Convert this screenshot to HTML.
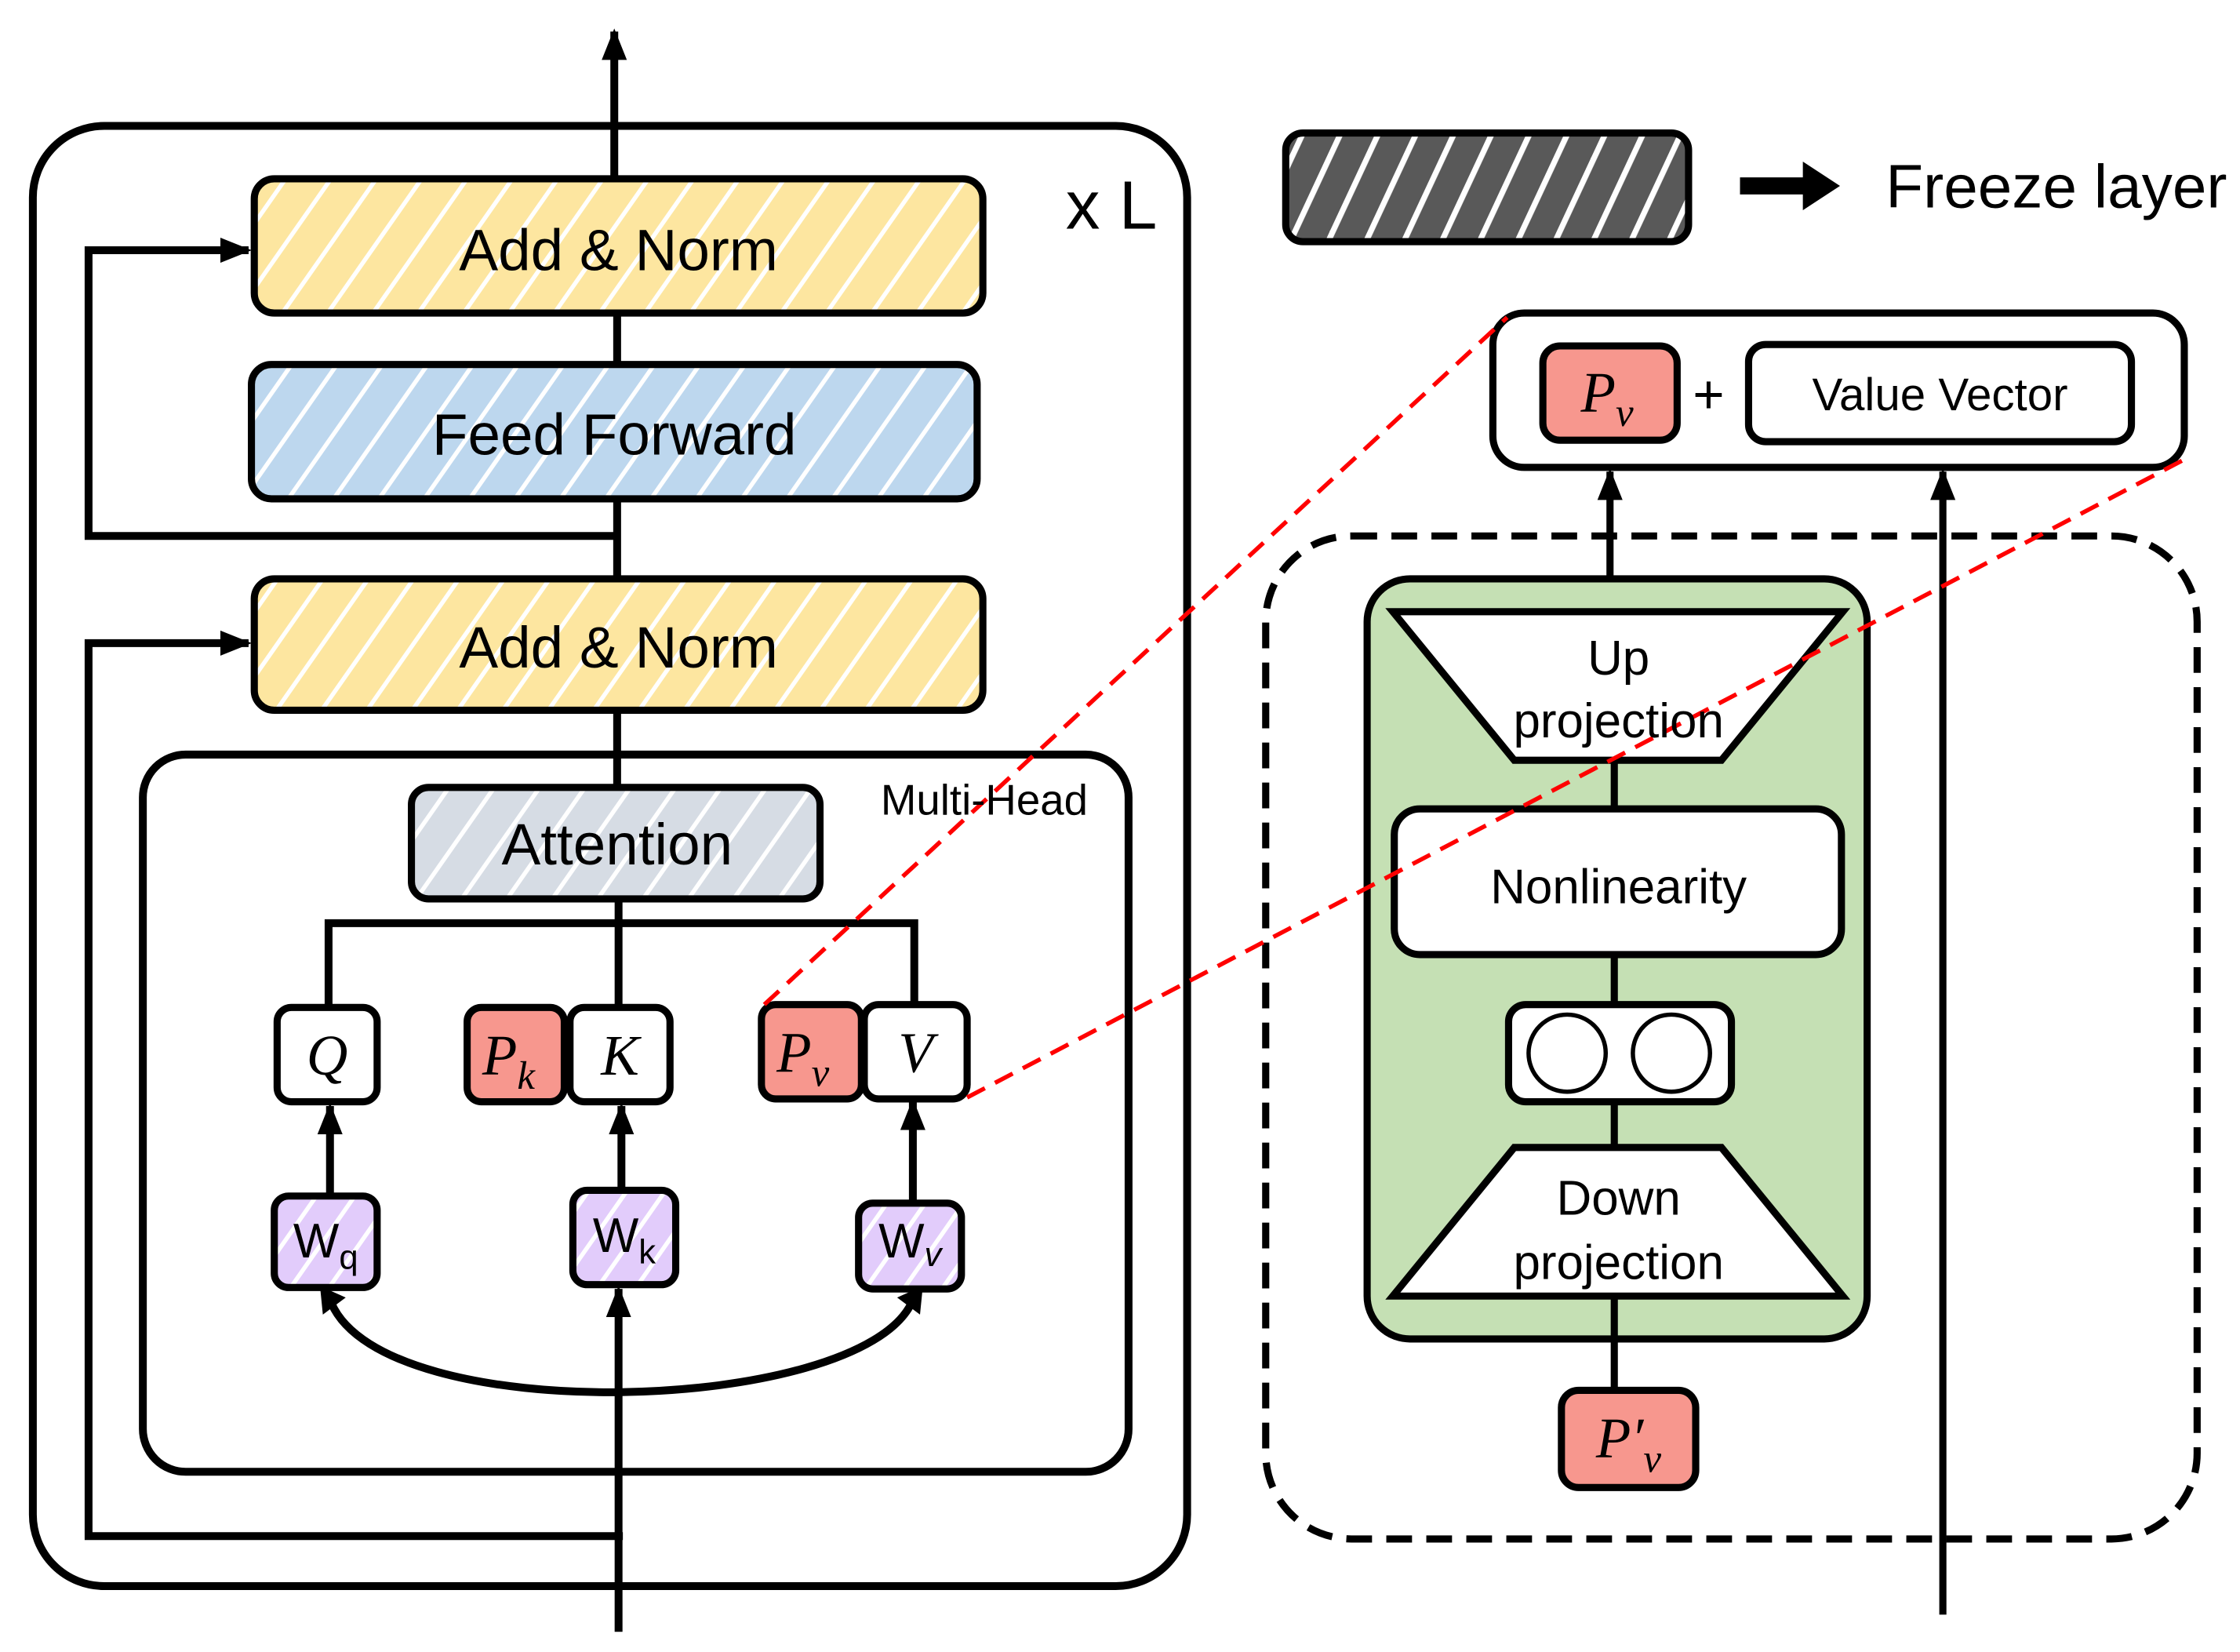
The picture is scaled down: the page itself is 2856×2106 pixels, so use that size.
<!DOCTYPE html>
<html><head><meta charset="utf-8"><style>
html,body{margin:0;padding:0;background:#fff;}
svg{display:block;}
text{font-family:"Liberation Sans",sans-serif;fill:#000;}
.m{font-family:"Liberation Serif",serif;font-style:italic;}
</style></head><body>
<svg width="2856" height="2106" viewBox="0 0 1568 1156" xmlns="http://www.w3.org/2000/svg">
<defs>
<pattern id="hy" width="26" height="26" patternUnits="userSpaceOnUse" patternTransform="rotate(35)"><rect width="26" height="26" fill="#fde6a0"/><rect x="0" width="3" height="26" fill="#fff"/></pattern>
<pattern id="hb" width="26" height="26" patternUnits="userSpaceOnUse" patternTransform="rotate(35)"><rect width="26" height="26" fill="#bdd7ee"/><rect x="0" width="3" height="26" fill="#fff"/></pattern>
<pattern id="hg" width="26" height="26" patternUnits="userSpaceOnUse" patternTransform="rotate(35)"><rect width="26" height="26" fill="#d6dce4"/><rect x="0" width="3" height="26" fill="#fff"/></pattern>
<pattern id="hp" width="22" height="22" patternUnits="userSpaceOnUse" patternTransform="rotate(35)"><rect width="22" height="22" fill="#e2ccfb"/><rect x="0" width="3" height="22" fill="#fff"/></pattern>
<pattern id="hd" width="24" height="24" patternUnits="userSpaceOnUse" patternTransform="rotate(25)"><rect width="24" height="24" fill="#595959"/><rect x="0" width="4" height="24" fill="#fff"/></pattern>
<marker id="ar" viewBox="0 0 10 10" refX="9" refY="5" markerWidth="22" markerHeight="22" orient="auto" markerUnits="userSpaceOnUse"><path d="M0,1 L10,5 L0,9 z" fill="#000"/></marker>
</defs>
<g fill="none" stroke="#000" stroke-width="5.5">
<rect x="23" y="88" width="808" height="1022" rx="50"/>
<line x1="430" y1="125" x2="430" y2="22" marker-end="url(#ar)"/>
<line x1="432" y1="219" x2="432" y2="255"/>
<line x1="432" y1="349" x2="432" y2="405"/>
<line x1="432" y1="497" x2="432" y2="551"/>
<polyline points="432,375 62,375 62,175 174,175" marker-end="url(#ar)"/>
<polyline points="436,1075 62,1075 62,450 174,450" marker-end="url(#ar)"/>
<rect x="100" y="528" width="690" height="502" rx="30"/>
<line x1="433" y1="629" x2="433" y2="705"/>
<polyline points="230,705 230,646 640,646 640,703"/>
<line x1="231" y1="835" x2="231" y2="774" marker-end="url(#ar)"/>
<line x1="435" y1="831" x2="435" y2="774" marker-end="url(#ar)"/>
<line x1="639" y1="840" x2="639" y2="771" marker-end="url(#ar)"/>
<line x1="433" y1="1142" x2="433" y2="902" marker-end="url(#ar)"/>
<path d="M638,912 C600,990 270,1000 232,912" />
</g>
<path d="M628,908 L646,900 L644,920 z" fill="#000"/>
<path d="M242,908 L224,900 L226,920 z" fill="#000"/>
<g stroke="#000" stroke-width="5">
<rect x="178" y="125" width="510" height="94" rx="14" fill="url(#hy)"/>
<rect x="176" y="255" width="508" height="94" rx="14" fill="url(#hb)"/>
<rect x="178" y="405" width="510" height="92" rx="14" fill="url(#hy)"/>
<rect x="288" y="551" width="286" height="78" rx="12" fill="url(#hg)"/>
<rect x="194" y="705" width="70" height="66" rx="10" fill="#fff"/>
<rect x="327" y="705" width="68" height="66" rx="10" fill="#f7978e"/>
<rect x="399" y="705" width="70" height="66" rx="10" fill="#fff"/>
<rect x="533" y="703" width="70" height="66" rx="10" fill="#f7978e"/>
<rect x="605" y="703" width="72" height="66" rx="10" fill="#fff"/>
<rect x="192" y="837" width="72" height="64" rx="10" fill="url(#hp)"/>
<rect x="401" y="833" width="72" height="66" rx="10" fill="url(#hp)"/>
<rect x="601" y="842" width="72" height="60" rx="10" fill="url(#hp)"/>
<rect x="900" y="93" width="282" height="76" rx="12" fill="url(#hd)"/>
<rect x="1045" y="219" width="484" height="108" rx="22" fill="#fff"/>
<rect x="1080" y="242" width="94" height="66" rx="12" fill="#f7978e"/>
<rect x="1224" y="241" width="268" height="68" rx="12" fill="#fff"/>
<rect x="886" y="375" width="652" height="702" rx="60" fill="none" stroke-dasharray="18,10"/>
<rect x="957" y="405" width="350" height="532" rx="30" fill="#c5e0b4"/>
<line x1="1130" y1="532" x2="1130" y2="566"/>
<line x1="1130" y1="668" x2="1130" y2="703"/>
<line x1="1130" y1="771" x2="1130" y2="803"/>
<line x1="1130" y1="907" x2="1130" y2="973"/>
<polygon points="975,428 1290,428 1205,532 1060,532" fill="#fff"/>
<rect x="976" y="566" width="313" height="102" rx="18" fill="#fff"/>
<rect x="1056" y="703" width="156" height="68" rx="12" fill="#fff"/>
<circle cx="1097" cy="737" r="27" fill="#fff" stroke-width="3"/>
<circle cx="1170" cy="737" r="27" fill="#fff" stroke-width="3"/>
<polygon points="1060,803 1205,803 1290,907 975,907" fill="#fff"/>
<rect x="1093" y="973" width="94" height="68" rx="12" fill="#f7978e"/>
<line x1="1127" y1="405" x2="1127" y2="330" marker-end="url(#ar)"/>
<line x1="1360" y1="1130" x2="1360" y2="330" marker-end="url(#ar)"/>
</g>
<path d="M1218,124 L1262,124 L1262,113 L1288,130 L1262,147 L1262,136 L1218,136 z" fill="#000"/>
<g stroke="#f00" stroke-width="3" stroke-dasharray="14,8" fill="none">
<line x1="535" y1="703" x2="1055" y2="222"/>
<line x1="677" y1="768" x2="1528" y2="322"/>
</g>
<g text-anchor="middle">
<text x="433" y="189" font-size="41">Add &amp; Norm</text>
<text x="430" y="318" font-size="41">Feed Forward</text>
<text x="433" y="467" font-size="41">Add &amp; Norm</text>
<text x="432" y="605" font-size="41">Attention</text>
<text x="689" y="570" font-size="30">Multi-Head</text>
<text x="778" y="160" font-size="48">x L</text>
<text x="229" y="752" font-size="40" class="m">Q</text>
<text x="356" y="752" font-size="40" class="m">P<tspan font-size="28" dy="10">k</tspan></text>
<text x="434" y="752" font-size="40" class="m">K</text>
<text x="562" y="750" font-size="40" class="m">P<tspan font-size="28" dy="10">v</tspan></text>
<text x="641" y="750" font-size="40" class="m">V</text>
<text x="228" y="880" font-size="34" font-family="Liberation Serif">W<tspan font-size="24" dy="8">q</tspan></text>
<text x="437" y="876" font-size="34" font-family="Liberation Serif">W<tspan font-size="24" dy="8">k</tspan></text>
<text x="637" y="880" font-size="34" font-family="Liberation Serif">W<tspan font-size="24" dy="6" font-style="italic">v</tspan></text>
<text x="1125" y="288" font-size="40" class="m">P<tspan font-size="28" dy="10">v</tspan></text>
<text x="1196" y="289" font-size="38">+</text>
<text x="1358" y="287" font-size="32">Value Vector</text>
<text x="1133" y="472" font-size="34">Up</text>
<text x="1133" y="516" font-size="34">projection</text>
<text x="1133" y="632" font-size="34">Nonlinearity</text>
<text x="1133" y="850" font-size="34">Down</text>
<text x="1133" y="895" font-size="34">projection</text>
<text x="1140" y="1020" font-size="40" class="m">P′<tspan font-size="28" dy="10">v</tspan></text>
</g>
<text x="1320" y="145" font-size="43">Freeze layer</text>
</svg>
</body></html>
